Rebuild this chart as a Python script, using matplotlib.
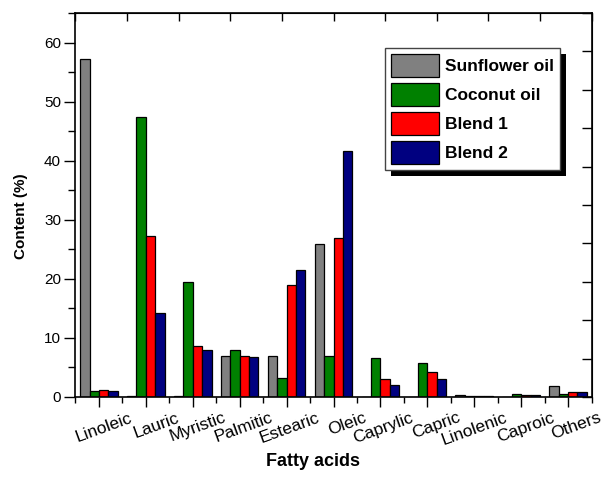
import numpy as np
import matplotlib
matplotlib.use("Agg")
import matplotlib.pyplot as plt
import matplotlib.transforms as mtransforms
from matplotlib.patches import Rectangle

plt.rcParams['font.family'] = ['Liberation Sans', 'DejaVu Sans']

# Fatty acid composition (%)
acids = ['Linoleic', 'Lauric', 'Myristic', 'Palmitic', 'Estearic', 'Oleic',
         'Caprylic', 'Capric', 'Linolenic', 'Caproic', 'Others']
sunflower = [57.2, 0.1, 0.2, 7.0, 7.0, 25.9, 0.0, 0.0, 0.35, 0.0, 1.9]
coconut = [1.1, 47.4, 19.5, 8.0, 3.3, 7.0, 6.6, 5.7, 0.15, 0.5, 0.55]
blend1 = [1.2, 27.2, 8.7, 7.0, 18.9, 26.9, 3.05, 4.3, 0.15, 0.35, 0.9]
blend2 = [1.0, 14.3, 8.0, 6.8, 21.5, 41.6, 2.0, 3.05, 0.15, 0.35, 0.9]

series = [('Sunflower oil', sunflower, '#808080'),
          ('Coconut oil', coconut, '#008000'),
          ('Blend 1', blend1, '#ff0000'),
          ('Blend 2', blend2, '#000080')]

fig = plt.figure(figsize=(6.03, 4.79), dpi=100)
W, H = 603, 479
ax = fig.add_axes([75 / W, 1 - 397 / H, (592 - 75) / W, (397 - 13) / H])

x = np.arange(1, len(acids) + 1)
w = 0.2
for i, (name, vals, col) in enumerate(series):
    ax.bar(x + (i - 1.5) * w, vals, w, color=col, edgecolor='black',
           linewidth=0.9, label=name)

ax.set_xlim(0.49, 11.51)
ax.set_ylim(0, 65)

# bottom / left axes
ax.set_xticks(x)
ax.set_xticklabels(acids, rotation=20, fontsize=12.5, ha='right', va='top')
ax.set_xticks(np.arange(0.5, 12, 1), minor=True)
ax.set_yticks(np.arange(0, 61, 10))
ax.set_yticks(np.arange(5, 66, 10), minor=True)
ax.tick_params(axis='x', which='major', direction='out', length=7, width=1, pad=2.5)
ax.tick_params(axis='x', which='minor', direction='out', length=4, width=1)
ax.tick_params(axis='y', which='major', direction='out', length=8, width=1,
               labelsize=11, pad=2)
ax.tick_params(axis='y', which='minor', direction='out', length=5, width=1)

# shift rotated labels so their right end sits ~35 px right of the tick
shift = mtransforms.ScaledTranslation(35 / 100, 0, fig.dpi_scale_trans)
for lab in ax.get_xticklabels():
    lab.set_transform(lab.get_transform() + shift)

# top / right axes with their own divisions
top = ax.secondary_xaxis('top')
top.set_xticks(np.linspace(0.5, 11.5, 11))
top.set_xticklabels([])
top.tick_params(direction='in', length=6, width=1)
top.xaxis.set_minor_locator(plt.NullLocator())
right = ax.secondary_yaxis('right')
right.set_yticks(np.linspace(0, 65, 11))
right.set_yticklabels([])
right.tick_params(direction='in', length=7, width=1)
right.yaxis.set_minor_locator(plt.NullLocator())

for sp in ax.spines.values():
    sp.set_linewidth(1.2)

fig.text(21 / W, 1 - 216 / H, 'Content (%)', rotation=90, ha='center',
         va='center', fontsize=11, fontweight='bold')
fig.text(313 / W, 1 - 462 / H, 'Fatty acids', ha='center', va='center',
         fontsize=13, fontweight='bold')

leg = ax.legend(loc='upper left', bbox_to_anchor=(385 / W, 1 - 48 / H),
                bbox_transform=fig.transFigure, borderaxespad=0,
                fancybox=False, framealpha=1, edgecolor='#444444',
                prop={'weight': 'bold', 'size': 12.5},
                handlelength=2.76, handleheight=1.66, labelspacing=0.34,
                handletextpad=0.35, borderpad=0.36)
leg.set_zorder(6)
leg.get_frame().set_linewidth(1)

# solid black shadow offset 6 px right/down of the legend frame
fig.canvas.draw()
bb = leg.get_window_extent()
shadow = Rectangle((bb.x0 + 6, bb.y0 - 6), bb.width, bb.height,
                   transform=None, facecolor='black', edgecolor='none',
                   zorder=5, clip_on=False)
ax.add_artist(shadow)

fig.savefig('out.png', dpi=100)
